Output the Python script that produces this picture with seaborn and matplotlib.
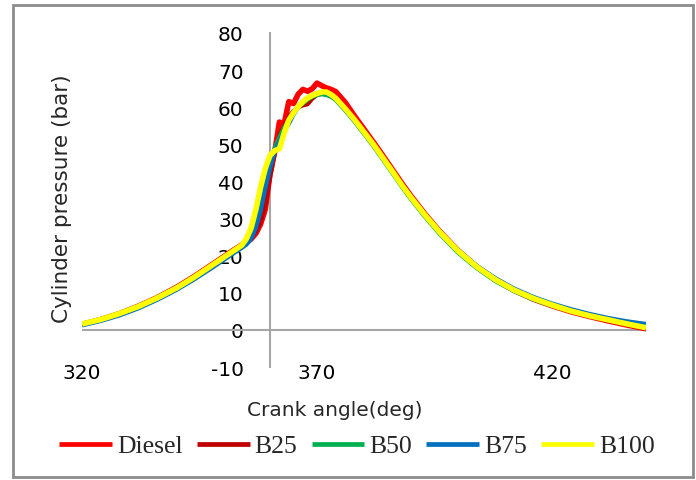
import matplotlib
matplotlib.use("Agg")
import matplotlib.pyplot as plt
import seaborn as sns
import pandas as pd
from matplotlib.patches import Rectangle

sns.set_style("white")
plt.rcParams['font.family'] = ['DejaVu Sans']
plt.rcParams['axes.unicode_minus'] = False

angles = [320, 324, 328, 332, 336, 340, 344, 348, 350, 352, 354,
          355, 356, 357, 358, 359, 360, 361, 362, 363, 364,
          365, 366, 367, 368, 369, 370, 371, 372, 373, 374,
          376, 378, 380, 382, 384, 386, 388, 390, 393, 396,
          400, 404, 408, 412, 416, 420, 424, 428, 432, 436, 440]

diesel = [1.5, 2.8, 4.4, 6.4, 8.7, 11.4, 14.5, 17.9, 19.6, 21.3, 22.9,
          23.6, 24.5, 26.0, 28.5, 32.5, 42.0, 48.0, 56.0, 55.5, 61.5,
          61.0, 63.5, 64.8, 64.3, 65.0, 66.5, 65.8, 65.2, 64.8, 64.2,
          61.3, 57.6, 54.1, 50.6, 47.0, 43.3, 39.6, 36.1, 31.2, 26.7,
          21.4, 17.0, 13.5, 10.6, 8.3, 6.5, 4.9, 3.6, 2.4, 1.3, 0.3]

b25 = [1.5, 2.8, 4.4, 6.4, 8.7, 11.4, 14.5, 17.9, 19.6, 21.3, 22.9,
       23.6, 24.6, 26.3, 29.0, 33.5, 41.0, 47.5, 52.5, 55.0, 57.5,
       59.0, 60.0, 60.5, 60.8, 62.3, 63.3, 63.6, 63.5, 63.0, 62.3,
       59.6, 56.6, 53.4, 50.1, 46.6, 43.0, 39.4, 36.0, 31.1, 26.6,
       21.3, 17.0, 13.5, 10.7, 8.4, 6.6, 5.0, 3.7, 2.5, 1.4, 0.4]

b50 = [1.6, 2.9, 4.5, 6.4, 8.7, 11.3, 14.3, 17.6, 19.3, 21.0, 22.6,
       23.6, 25.5, 29.0, 34.0, 40.0, 45.0, 49.0, 52.0, 54.5, 56.5,
       58.5, 60.0, 61.0, 62.0, 62.8, 63.3, 63.5, 63.3, 62.8, 61.9,
       59.1, 56.1, 52.8, 49.5, 45.9, 42.3, 38.6, 35.2, 30.4, 26.0,
       20.8, 16.6, 13.1, 10.4, 8.2, 6.5, 5.0, 3.7, 2.6, 1.6, 0.7]

b75 = [1.2, 2.4, 3.9, 5.8, 8.1, 10.7, 13.7, 17.0, 18.7, 20.4, 22.1,
       23.0, 24.5, 27.5, 32.0, 38.0, 43.5, 48.0, 51.0, 53.5, 55.5,
       58.0, 60.0, 61.5, 62.5, 63.3, 63.8, 64.0, 63.8, 63.1, 62.1,
       59.3, 56.3, 53.1, 49.8, 46.2, 42.7, 39.1, 35.7, 31.0, 26.6,
       21.5, 17.3, 13.9, 11.1, 8.9, 7.1, 5.6, 4.3, 3.2, 2.3, 1.6]

b100 = [1.6, 2.8, 4.4, 6.3, 8.6, 11.2, 14.3, 17.7, 19.4, 21.1, 22.8,
        24.6, 27.5, 32.5, 38.5, 43.5, 47.0, 48.3, 48.8, 53.0, 56.5,
        58.5, 60.2, 61.5, 62.5, 63.2, 63.7, 64.1, 64.1, 63.4, 62.4,
        59.6, 56.6, 53.3, 50.0, 46.4, 42.8, 39.1, 35.7, 30.9, 26.5,
        21.3, 17.0, 13.5, 10.7, 8.5, 6.7, 5.1, 3.8, 2.7, 1.6, 0.6]

series_names = ["Diesel", "B25", "B50", "B75", "B100"]
series_values = [diesel, b25, b50, b75, b100]
colors = ["#FF0000", "#C00000", "#00B050", "#0070C0", "#FFFF00"]
widths = [4.0, 3.0, 3.0, 3.0, 4.0]

x_ticks = [320, 370, 420]
y_ticks = [-10, 0, 10, 20, 30, 40, 50, 60, 70, 80]

W, H = 696, 481
fig = plt.figure(figsize=(W / 100, H / 100), dpi=100)
ax = fig.add_axes([82 / W, 1 - 368 / H, 564 / W, 334 / H])

for name, vals, c, lw in zip(series_names, series_values, colors, widths):
    df = pd.DataFrame({"angle": angles, "pressure": vals})
    sns.lineplot(data=df, x="angle", y="pressure", color=c, linewidth=lw,
                 ax=ax, label=name, zorder=3, solid_capstyle="butt")

ax.set_xlim(320, 440)
ax.set_ylim(-10, 80)
ax.set_xticks(x_ticks)
ax.set_yticks(y_ticks)
ax.set_xlabel("")
ax.set_ylabel("")

for s in ["top", "right", "bottom"]:
    ax.spines[s].set_visible(False)
ax.spines["left"].set_position(("data", 360))
ax.spines["left"].set_color("#A6A6A6")
ax.spines["left"].set_linewidth(1.5)
ax.axhline(0, color="#A6A6A6", linewidth=1.5, zorder=1)

ax.tick_params(axis="both", length=0, labelsize=14.5, colors="black")
ax.tick_params(axis="y", pad=19)
ax.tick_params(axis="x", pad=-3)
ax.grid(False)

fig.text(62.5 / W, 1 - 199 / H, "Cylinder pressure (bar)", rotation=90,
         ha="center", va="center", fontsize=15.5)
fig.text(335 / W, 1 - 411 / H, "Crank angle(deg)", ha="center", va="center",
         fontsize=14.5)

leg = ax.legend(loc="center", bbox_to_anchor=(357 / W, 1 - 447 / H),
                bbox_transform=fig.transFigure, ncol=5, frameon=False,
                prop={"family": "Liberation Serif", "size": 18.5},
                handlelength=2.05, handletextpad=0.2, columnspacing=0.55,
                borderaxespad=0)
for line in leg.get_lines():
    line.set_linewidth(3.4)

fig.patches.append(Rectangle((13 / W, 3 / H), 680 / W, 472 / H,
                             transform=fig.transFigure, fill=False,
                             edgecolor="#8C8C8C", linewidth=2))

fig.savefig("out.png", dpi=100)
